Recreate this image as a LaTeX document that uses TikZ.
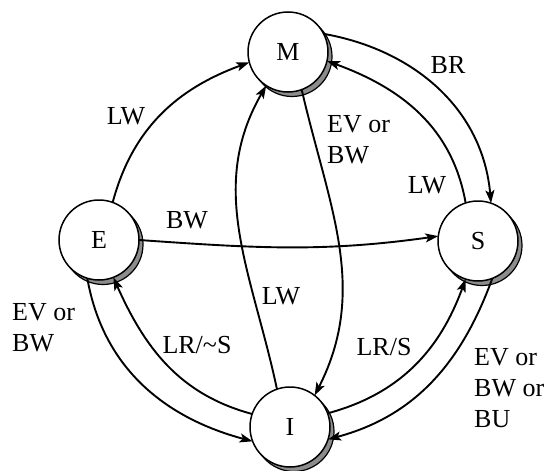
\documentclass[tikz,border=0pt]{standalone}
\usepackage{fontspec}
\setmainfont{Liberation Serif}
\newfontfamily\labelserif{Liberation Serif}
\usetikzlibrary{arrows.meta,shadows}
\begin{document}
\begin{tikzpicture}[x=1pt,y=1pt,
  state/.style={circle, draw=black, line width=1.5pt, fill=white, minimum size=80pt, inner sep=0pt, outer sep=0pt,
    font=\labelserif\fontsize{26}{31}\selectfont,
    drop shadow={shadow xshift=4pt, shadow yshift=-4.5pt, opacity=1, fill=gray!90, draw=black, line width=1.2pt}},
  trans/.style={line width=1.9pt, -{Stealth[length=13pt,width=9pt,inset=3pt]}},
  lbl/.style={font=\labelserif\fontsize{26}{31}\selectfont, inner sep=0pt, align=left}
]
\useasboundingbox (0,0) rectangle (552,-471);
\node[state] (M) at (288,-52) {M};
\node[state] (E) at (99,-240) {E};
\node[state] (S) at (478,-241) {S};
\node[state] (I) at (290,-427) {I};

\draw[trans] (E.70) to[out=75,in=200] (M.195);
\draw[trans] (M.27) to[out=-10,in=95] (S.71);
\draw[trans] (S.108) to[out=100,in=-20] (M.-13);
\draw[trans] (M.-70) to[out=-77,in=63] (I.52);
\draw[trans] (I.109) to[out=102,in=240] (M.-123);
\draw[trans] (E.0) to[out=-4,in=188] (S.173);
\draw[trans] (I.161) to[out=165,in=-66] (E.-69);
\draw[trans] (E.-107) to[out=-80,in=165] (I.201);
\draw[trans] (I.20) to[out=15,in=250] (S.-108);
\draw[trans] (S.-69) to[out=-110,in=15] (I.-18);

\node[lbl] (l1) at (126,-116) {LW};
\node[lbl] (l2) at (448,-65) {BR};
\node[lbl] (l3) at (427,-185) {LW};
\node[lbl, anchor=west] (l4) at (327,-140) {EV or\\BW};
\node[lbl] (l5) at (187,-220) {BW};
\node[lbl] (l6) at (281,-296) {LW};
\node[lbl] (l7) at (197,-345) {LR/\textasciitilde S};
\node[lbl, anchor=west] (l8) at (12,-328) {EV or\\BW};
\node[lbl] (l9) at (384,-347) {LR/S};
\node[lbl, anchor=west] (l10) at (474,-388) {EV or\\BW or\\BU};
\end{tikzpicture}
\end{document}
